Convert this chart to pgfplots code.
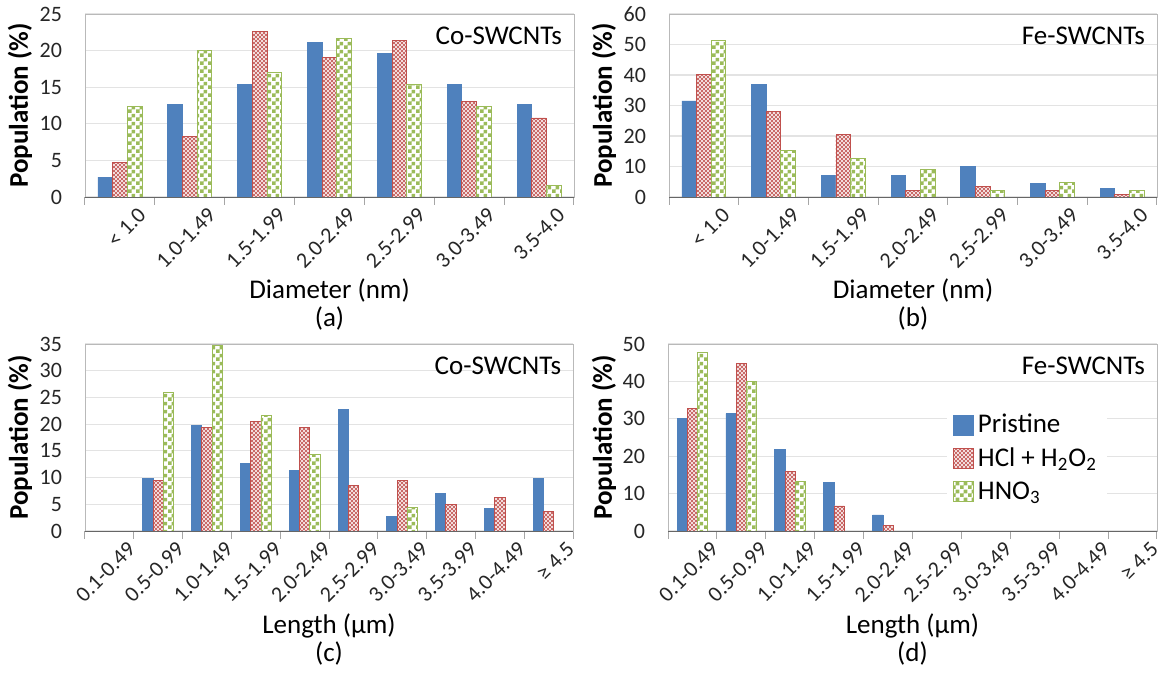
\documentclass[border=0pt]{standalone}
\usepackage{fontspec}
\setmainfont{Carlito}
\usepackage{pgfplots}
\pgfplotsset{compat=1.18}
\usetikzlibrary{patterns}

\definecolor{cblue}{HTML}{4F81BD}
\definecolor{cred}{HTML}{C0504D}
\definecolor{cgreen}{HTML}{9BBB59}

% dense red lattice and small green checkerboard, as in the Excel fills
\pgfdeclarepatternformonly{rhatch}{\pgfqpoint{-0.5pt}{-0.5pt}}{\pgfqpoint{2.5pt}{2.5pt}}{\pgfqpoint{2pt}{2pt}}{%
  \pgfsetlinewidth{0.45pt}%
  \pgfpathmoveto{\pgfqpoint{0pt}{0pt}}\pgfpathlineto{\pgfqpoint{2pt}{2pt}}%
  \pgfpathmoveto{\pgfqpoint{0pt}{2pt}}\pgfpathlineto{\pgfqpoint{2pt}{0pt}}%
  \pgfusepath{stroke}}
\pgfdeclarepatternformonly{gcheck}{\pgfpointorigin}{\pgfqpoint{4pt}{4pt}}{\pgfqpoint{4pt}{4pt}}{%
  \pgfpathrectangle{\pgfpointorigin}{\pgfqpoint{2pt}{2pt}}%
  \pgfpathrectangle{\pgfqpoint{2pt}{2pt}}{\pgfqpoint{2pt}{2pt}}%
  \pgfusepath{fill}}

\pgfplotsset{
  panel/.style={
    scale only axis,
    ybar=0pt, bar width=0.21,
    ymin=0, xmin=-0.5,
    axis line style={draw=gray!55},
    xtick pos=bottom, ytick pos=left,
    major tick length=0pt,
    minor tick length=4pt,
    tick align=outside,
    minor x tick style={draw=gray!70, line width=0.5pt},
    ymajorgrids, grid style={draw=gray!22, line width=0.6pt},
    tick label style={font=\fontsize{11}{13}\selectfont, text=black!85},
    yticklabel style={xshift=-8pt},
    x tick label style={rotate=45, anchor=north east, xshift=6pt, yshift=-6pt},
    /pgf/number format/assume math mode=true,
    clip=false,
    legend image code/.code={\draw[#1] (0pt,-5pt) rectangle (10pt,5pt);},
  },
  pristine/.style={fill=cblue, draw=cblue},
  hcl/.style={draw=cred, fill=white, postaction={pattern=rhatch, pattern color=cred!85}},
  hno/.style={draw=cgreen, fill=white, postaction={pattern=gcheck, pattern color=cgreen}},
}

\newcommand\titlefont{\fontsize{13.5}{16}\selectfont}

\begin{document}
\begin{tikzpicture}
\path[use as bounding box] (0,0) rectangle (579pt,336.5pt);

% (a) diameter, Co
\begin{axis}[panel, at={(42.5pt,238pt)}, anchor=south west,
  width=244.5pt, height=91.5pt, xmax=6.5, ymax=25, ytick={0,5,...,25},
  xtick={0,...,6}, minor xtick={-0.5,0.5,...,6.5},
  xticklabels={< 1.0,1.0-1.49,1.5-1.99,2.0-2.49,2.5-2.99,3.0-3.49,3.5-4.0}]
\addplot[pristine] coordinates {(0,2.7) (1,12.6) (2,15.4) (3,21.1) (4,19.6) (5,15.4) (6,12.6)};
\addplot[hcl] coordinates {(0,4.7) (1,8.3) (2,22.6) (3,19.1) (4,21.4) (5,13.1) (6,10.8)};
\addplot[hno] coordinates {(0,12.4) (1,20.0) (2,17.0) (3,21.6) (4,15.4) (5,12.4) (6,1.6)};
\draw[black!60] (rel axis cs:0,0) -- (rel axis cs:1,0);
\node[anchor=north east, font=\titlefont] at (rel axis cs:0.99,0.97) {Co-SWCNTs};
\end{axis}

% (b) diameter, Fe
\begin{axis}[panel, at={(334.5pt,238pt)}, anchor=south west,
  width=244pt, height=91.5pt, xmax=6.5, ymax=60, ytick={0,10,...,60},
  xtick={0,...,6}, minor xtick={-0.5,0.5,...,6.5},
  xticklabels={< 1.0,1.0-1.49,1.5-1.99,2.0-2.49,2.5-2.99,3.0-3.49,3.5-4.0}]
\addplot[pristine] coordinates {(0,31.5) (1,37.0) (2,7.0) (3,7.0) (4,9.9) (5,4.4) (6,2.7)};
\addplot[hcl] coordinates {(0,40.1) (1,28.1) (2,20.4) (3,2.2) (4,3.4) (5,2.2) (6,0.9)};
\addplot[hno] coordinates {(0,51.4) (1,15.4) (2,12.7) (3,9.0) (4,2.2) (5,4.8) (6,2.2)};
\draw[black!60] (rel axis cs:0,0) -- (rel axis cs:1,0);
\node[anchor=north east, font=\titlefont] at (rel axis cs:0.99,0.97) {Fe-SWCNTs};
\end{axis}

% (c) length, Co
\begin{axis}[panel, at={(42.5pt,71pt)}, anchor=south west,
  width=244pt, height=93.5pt, xmax=9.5, ymax=35, ytick={0,5,...,35},
  xtick={0,...,9}, minor xtick={-0.5,0.5,...,9.5},
  xticklabels={0.1-0.49,0.5-0.99,1.0-1.49,1.5-1.99,2.0-2.49,2.5-2.99,3.0-3.49,3.5-3.99,4.0-4.49,≥ 4.5}]
\addplot[pristine] coordinates {(1,9.8) (2,19.8) (3,12.7) (4,11.3) (5,22.8) (6,2.8) (7,7.1) (8,4.2) (9,9.8)};
\addplot[hcl] coordinates {(1,9.5) (2,19.3) (3,20.5) (4,19.3) (5,8.6) (6,9.5) (7,4.9) (8,6.2) (9,3.7)};
\addplot[hno] coordinates {(1,25.9) (2,34.7) (3,21.7) (4,14.4) (6,4.4)};
\draw[black!60] (rel axis cs:0,0) -- (rel axis cs:1,0);
\node[anchor=north east, font=\titlefont] at (rel axis cs:0.99,0.97) {Co-SWCNTs};
\end{axis}

% (d) length, Fe
\begin{axis}[panel, at={(334pt,71pt)}, anchor=south west,
  width=244.5pt, height=93.5pt, xmax=9.5, ymax=50, ytick={0,10,...,50},
  xtick={0,...,9}, minor xtick={-0.5,0.5,...,9.5},
  xticklabels={0.1-0.49,0.5-0.99,1.0-1.49,1.5-1.99,2.0-2.49,2.5-2.99,3.0-3.49,3.5-3.99,4.0-4.49,≥ 4.5},
  legend style={at={(rel axis cs:0.57,0.67)}, anchor=north west, draw=none, fill=white,
    font=\fontsize{13.5}{16}\selectfont, row sep=2pt},
  legend cell align=left]
\addplot[pristine] coordinates {(0,30.1) (1,31.4) (2,21.7) (3,13.0) (4,4.3)};
\addplot[hcl] coordinates {(0,32.8) (1,44.7) (2,15.8) (3,6.7) (4,1.4)};
\addplot[hno] coordinates {(0,47.7) (1,39.9) (2,13.3)};
\legend{Pristine, HCl + H\textsubscript{2}O\textsubscript{2}, HNO\textsubscript{3}}
\draw[black!60] (rel axis cs:0,0) -- (rel axis cs:1,0);
\node[anchor=north east, font=\titlefont] at (rel axis cs:0.99,0.97) {Fe-SWCNTs};
\end{axis}

% axis titles and panel letters
\node[rotate=90, font=\titlefont\bfseries] at (10pt,283.75pt) {Population (\%)};
\node[rotate=90, font=\titlefont\bfseries] at (302pt,283.75pt) {Population (\%)};
\node[rotate=90, font=\titlefont\bfseries] at (10pt,117.75pt) {Population (\%)};
\node[rotate=90, font=\titlefont\bfseries] at (302pt,117.75pt) {Population (\%)};
\node[font=\titlefont] at (164.75pt,191pt) {Diameter (nm)};
\node[font=\titlefont] at (164.75pt,177pt) {(a)};
\node[font=\titlefont] at (456.5pt,191pt) {Diameter (nm)};
\node[font=\titlefont] at (456.5pt,177pt) {(b)};
\node[font=\titlefont] at (164.5pt,23.5pt) {Length (µm)};
\node[font=\titlefont] at (164.5pt,9.5pt) {(c)};
\node[font=\titlefont] at (456.25pt,23.5pt) {Length (µm)};
\node[font=\titlefont] at (456.25pt,9.5pt) {(d)};
\end{tikzpicture}
\end{document}
